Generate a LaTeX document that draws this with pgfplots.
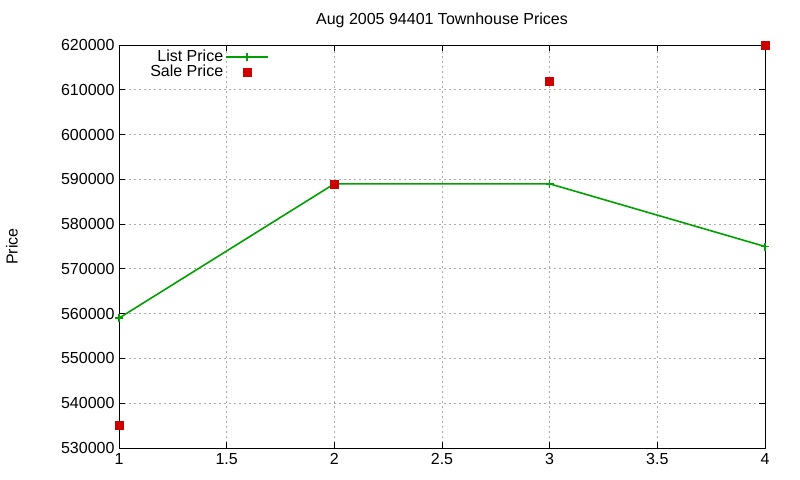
\documentclass[border=0pt]{standalone}
\usepackage{pgfplots}
\pgfplotsset{compat=1.18}
\usepackage{fontspec}
\setmainfont{Liberation Sans}
\definecolor{gpgreen}{RGB}{0,160,0}
\definecolor{gpred}{RGB}{204,0,0}
\begin{document}
\fontsize{16bp}{19bp}\selectfont
\begin{tikzpicture}
\useasboundingbox (-119bp,-32bp) rectangle (681bp,448bp);
\begin{axis}[
  at={(0,0)}, anchor=south west,
  scale only axis, width=646bp, height=403bp,
  xmin=1, xmax=4, ymin=530000, ymax=620000,
  xtick={1,1.5,...,4},
  ytick={530000,540000,...,620000},
  scaled y ticks=false,
  yticklabel style={/pgf/number format/fixed,/pgf/number format/1000 sep={}, xshift=1bp},
  xticklabel style={/pgf/number format/fixed},
  /pgf/number format/assume math mode=true,
  tick align=inside,
  major tick length=6bp,
  tick style={black, line width=0.8pt},
  axis line style={black, line width=0.8pt},
  grid=major,
  grid style={gray!65, dash pattern=on 2bp off 3bp, line width=0.8pt},
  title={Aug 2005 94401 Townhouse Prices},
  title style={at={(0.5,1)}, anchor=south, yshift=11bp, inner sep=0pt},
  ylabel={Price},
  every axis y label/.style={at={(-107bp,201.5bp)}, rotate=90, anchor=center},
  legend style={at={(150bp,398bp)}, anchor=north east, draw=none, fill=none,
    row sep=1bp, inner sep=0pt, nodes={inner xsep=2bp, inner ysep=0pt}},
  legend cell align=right,
  legend plot pos=right,
  legend image code/.code={%
    \draw[mark repeat=2,mark phase=2,#1] plot coordinates {(0bp,0bp) (21bp,0bp) (42bp,0bp)};},
  clip=false,
]
\addplot[gpgreen, line width=1.6pt, mark=+, mark size=4bp, mark options={line width=1.4pt}]
  coordinates {(1,559000) (2,589000) (3,589000) (4,575000)};
\addlegendentry{List Price\hspace{5bp}}
\addplot[only marks, mark=square*, mark size=4bp, gpred, mark options={draw=gpred, fill=gpred}]
  coordinates {(1,535000) (2,589000) (3,612000) (4,620000)};
\addlegendentry{Sale Price\hspace{5bp}}
\end{axis}
\end{tikzpicture}
\end{document}
